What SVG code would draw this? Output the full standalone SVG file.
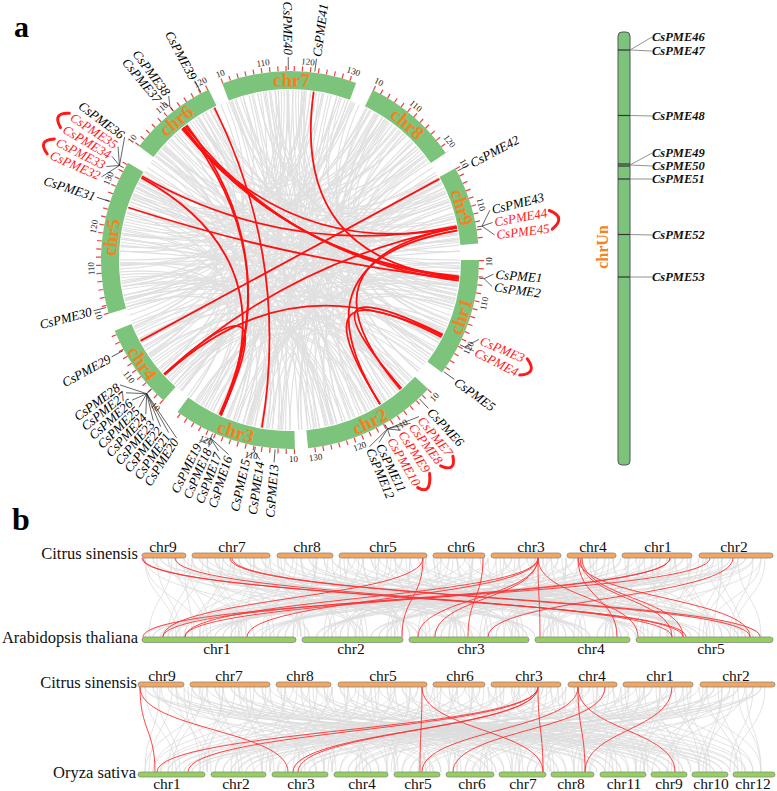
<svg xmlns="http://www.w3.org/2000/svg" xmlns:xlink="http://www.w3.org/1999/xlink" width="777" height="791" viewBox="0 0 777 791">
<style>
text{font-family:"Liberation Serif","Times New Roman",serif}
.gs{font-size:13px;font-style:italic;text-anchor:start;dominant-baseline:central;fill:#000}
.ge{font-size:13px;font-style:italic;text-anchor:end;dominant-baseline:central;fill:#000}
.r{fill:#ff1a1a}
.cl{font-size:19px;font-weight:bold;fill:#f5821f;text-anchor:middle;dominant-baseline:central}
.tk{font-size:9px;fill:#222;text-anchor:middle;dominant-baseline:central}
.band{fill:none;stroke:#7cc47c;stroke-width:18}
.tick{fill:none;stroke:#ee4040;stroke-width:5;stroke-dasharray:1.2 7}
.ld{fill:none;stroke:#222;stroke-width:0.7}
.br{fill:none;stroke:#ff1a1a;stroke-width:3;stroke-linecap:round}
.un{font-size:12.5px;font-style:italic;font-weight:bold;dominant-baseline:central;fill:#111}
.bo{fill:#f4a55e;stroke:#888;stroke-width:0.8}
.bg{fill:#94d15a;stroke:#888;stroke-width:0.8}
.bl{font-size:15.5px;text-anchor:middle;fill:#111}
.sp{font-size:16.5px;text-anchor:end;fill:#111}
</style>
<defs>
<path id="d50" d="M-71.8 -154.1Q0 0 71.8 -154.1"/>
<path id="d60" d="M-85 -147.2Q0 0 85 -147.2"/>
<path id="d70" d="M-97.5 -139.3Q0 0 97.5 -139.3"/>
<path id="d80" d="M-109.3 -130.2Q0 0 109.3 -130.2"/>
<path id="d90" d="M-120.2 -120.2Q0 0 120.2 -120.2"/>
<path id="d100" d="M-130.2 -109.3Q0 0 130.2 -109.3"/>
<path id="d110" d="M-139.3 -97.5Q0 0 139.3 -97.5"/>
<path id="d120" d="M-147.2 -85Q0 0 147.2 -85"/>
<path id="d130" d="M-154.1 -71.8Q0 0 154.1 -71.8"/>
<path id="d140" d="M-159.7 -58.1Q0 0 159.7 -58.1"/>
<path id="d150" d="M-164.2 -44Q0 0 164.2 -44"/>
<path id="d160" d="M-167.4 -29.5Q0 0 167.4 -29.5"/>
<path id="d170" d="M-169.4 -14.8Q0 0 169.4 -14.8"/>
<path id="d180" d="M-170 0L170 0"/>
</defs>
<rect width="777" height="791" fill="#fff"/>
<text x="14" y="37" font-size="30" font-weight="bold">a</text>
<text x="12" y="530" font-size="32" font-weight="bold">b</text>

<g id="links">
<g id="circos-gray-links" transform="translate(290,260)" fill="none" stroke="#e0e0e0" stroke-width="1.1">
<g id="gb1">
<use href="#d150" transform="rotate(166)"/><use href="#d100" transform="rotate(144)"/><use href="#d160" transform="rotate(17)"/><use href="#d130" transform="rotate(165)"/><use href="#d170" transform="rotate(188)"/><use href="#d60" transform="rotate(136)"/><use href="#d130" transform="rotate(44)"/><use href="#d110" transform="rotate(167)"/><use href="#d170" transform="rotate(30)"/><use href="#d80" transform="rotate(158)"/><use href="#d140" transform="rotate(191)"/><use href="#d100" transform="rotate(74)"/><use href="#d120" transform="rotate(194)"/><use href="#d160" transform="rotate(217)"/><use href="#d50" transform="rotate(165)"/><use href="#d150" transform="rotate(68)"/><use href="#d90" transform="rotate(191)"/><use href="#d180" transform="rotate(239)"/><use href="#d70" transform="rotate(187)"/><use href="#d120" transform="rotate(95)"/><use href="#d150" transform="rotate(233)"/><use href="#d100" transform="rotate(211)"/><use href="#d160" transform="rotate(84)"/><use href="#d130" transform="rotate(232)"/><use href="#d170" transform="rotate(255)"/><use href="#d60" transform="rotate(203)"/><use href="#d130" transform="rotate(115)"/><use href="#d110" transform="rotate(238)"/><use href="#d170" transform="rotate(101)"/><use href="#d80" transform="rotate(229)"/><use href="#d140" transform="rotate(262)"/><use href="#d100" transform="rotate(145)"/><use href="#d120" transform="rotate(258)"/><use href="#d160" transform="rotate(281)"/><use href="#d50" transform="rotate(229)"/><use href="#d150" transform="rotate(132)"/><use href="#d90" transform="rotate(255)"/><use href="#d180" transform="rotate(303)"/><use href="#d70" transform="rotate(251)"/><use href="#d120" transform="rotate(163)"/><use href="#d150" transform="rotate(301)"/><use href="#d100" transform="rotate(279)"/><use href="#d160" transform="rotate(152)"/><use href="#d130" transform="rotate(300)"/><use href="#d170" transform="rotate(323)"/><use href="#d60" transform="rotate(271)"/><use href="#d130" transform="rotate(179)"/><use href="#d110" transform="rotate(302)"/><use href="#d170" transform="rotate(170)"/><use href="#d80" transform="rotate(298)"/><use href="#d140" transform="rotate(331)"/><use href="#d100" transform="rotate(214)"/><use href="#d120" transform="rotate(327)"/><use href="#d160" transform="rotate(350)"/><use href="#d50" transform="rotate(298)"/><use href="#d150" transform="rotate(201)"/><use href="#d90" transform="rotate(324)"/><use href="#d180" transform="rotate(12)"/><use href="#d70" transform="rotate(320)"/><use href="#d120" transform="rotate(228)"/><use href="#d150" transform="rotate(6)"/><use href="#d100" transform="rotate(344)"/><use href="#d160" transform="rotate(217)"/><use href="#d130" transform="rotate(5)"/><use href="#d170" transform="rotate(33)"/><use href="#d60" transform="rotate(341)"/><use href="#d130" transform="rotate(249)"/><use href="#d110" transform="rotate(12)"/><use href="#d170" transform="rotate(235)"/><use href="#d80" transform="rotate(3)"/><use href="#d140" transform="rotate(36)"/><use href="#d100" transform="rotate(279)"/><use href="#d120" transform="rotate(32)"/><use href="#d160" transform="rotate(60)"/><use href="#d50" transform="rotate(8)"/><use href="#d150" transform="rotate(271)"/><use href="#d90" transform="rotate(34)"/><use href="#d180" transform="rotate(82)"/><use href="#d70" transform="rotate(30)"/><use href="#d120" transform="rotate(298)"/><use href="#d150" transform="rotate(76)"/><use href="#d100" transform="rotate(54)"/><use href="#d160" transform="rotate(287)"/><use href="#d130" transform="rotate(75)"/><use href="#d170" transform="rotate(98)"/><use href="#d60" transform="rotate(46)"/><use href="#d130" transform="rotate(314)"/><use href="#d110" transform="rotate(82)"/><use href="#d170" transform="rotate(305)"/><use href="#d80" transform="rotate(73)"/><use href="#d140" transform="rotate(106)"/><use href="#d100" transform="rotate(349)"/><use href="#d120" transform="rotate(102)"/><use href="#d160" transform="rotate(125)"/><use href="#d50" transform="rotate(73)"/><use href="#d150" transform="rotate(336)"/><use href="#d90" transform="rotate(99)"/><use href="#d180" transform="rotate(152)"/><use href="#d70" transform="rotate(100)"/><use href="#d120" transform="rotate(8)"/><use href="#d150" transform="rotate(146)"/><use href="#d100" transform="rotate(124)"/><use href="#d160" transform="rotate(357)"/><use href="#d130" transform="rotate(145)"/><use href="#d170" transform="rotate(168)"/>
</g>
<use href="#d120" transform="rotate(152.5)"/><use href="#d170" transform="rotate(183.5)"/><use href="#d90" transform="rotate(149.5)"/><use href="#d140" transform="rotate(40.5)"/><use href="#d140" transform="rotate(186.5)"/><use href="#d170" transform="rotate(37.5)"/><use href="#d100" transform="rotate(185.5)"/><use href="#d110" transform="rotate(86.5)"/><use href="#d160" transform="rotate(227.5)"/><use href="#d60" transform="rotate(183.5)"/><use href="#d160" transform="rotate(79.5)"/><use href="#d130" transform="rotate(230.5)"/><use href="#d120" transform="rotate(231.5)"/><use href="#d170" transform="rotate(266.5)"/><use href="#d90" transform="rotate(232.5)"/><use href="#d140" transform="rotate(123.5)"/><use href="#d140" transform="rotate(269.5)"/><use href="#d170" transform="rotate(120.5)"/><use href="#d100" transform="rotate(261.5)"/><use href="#d110" transform="rotate(169.5)"/><use href="#d160" transform="rotate(310.5)"/><use href="#d60" transform="rotate(266.5)"/><use href="#d160" transform="rotate(162.5)"/><use href="#d130" transform="rotate(321.5)"/><use href="#d120" transform="rotate(322.5)"/><use href="#d170" transform="rotate(353.5)"/><use href="#d90" transform="rotate(319.5)"/><use href="#d140" transform="rotate(210.5)"/><use href="#d140" transform="rotate(356.5)"/><use href="#d170" transform="rotate(207.5)"/><use href="#d100" transform="rotate(348.5)"/><use href="#d110" transform="rotate(254.5)"/><use href="#d160" transform="rotate(35.5)"/><use href="#d60" transform="rotate(351.5)"/><use href="#d160" transform="rotate(247.5)"/><use href="#d130" transform="rotate(38.5)"/><use href="#d120" transform="rotate(41.5)"/><use href="#d170" transform="rotate(72.5)"/><use href="#d90" transform="rotate(38.5)"/><use href="#d140" transform="rotate(289.5)"/><use href="#d140" transform="rotate(75.5)"/><use href="#d170" transform="rotate(286.5)"/><use href="#d100" transform="rotate(67.5)"/><use href="#d110" transform="rotate(333.5)"/><use href="#d160" transform="rotate(114.5)"/><use href="#d60" transform="rotate(70.5)"/><use href="#d160" transform="rotate(326.5)"/><use href="#d130" transform="rotate(117.5)"/><use href="#d120" transform="rotate(123.5)"/><use href="#d170" transform="rotate(154.5)"/><use href="#d90" transform="rotate(120.5)"/><use href="#d140" transform="rotate(11.5)"/>
<use href="#gb1" transform="scale(-1,1)"/>
</g>
<g id="circos-red-links" fill="none" stroke="#ff1010" stroke-width="1.8">
<path d="M183 127.9Q290 260 459.1 277.8"/>
<path d="M185.3 126Q290 260 458.7 280.7"/>
<path d="M181.9 128.8Q290 260 459.2 276.3"/>
<path d="M214.4 107.7Q290 260 261.9 427.7"/>
<path d="M184.2 127Q290 260 220.9 415.3"/>
<path d="M186.5 125.1Q290 260 219.5 414.7"/>
<path d="M141.3 177.6Q290 260 220.9 415.3"/>
<path d="M128.3 207.5Q290 260 458.9 279.2"/>
<path d="M313.7 91.6Q290 260 459.1 277.8"/>
<path d="M140.5 340.9Q290 260 439.4 178.9"/>
<path d="M164.1 374.2Q290 260 456.9 227.6"/>
<path d="M164.1 374.2Q290 260 220.9 415.3"/>
<path d="M442.3 335.6Q290 260 164.7 374.9"/>
<path d="M401.5 388.3Q290 260 442.8 334.5"/>
<path d="M456.9 227.6Q290 260 400.4 389.3"/>
<path d="M456.9 227.6Q290 260 183 127.9"/>
<path d="M456.6 226.1Q290 260 142 176.3"/>
<path d="M380.1 404.2Q290 260 441.5 337.2"/>
<path d="M380.1 404.2Q290 260 457.4 230.5"/>
</g>
<g id="synteny-gray-1" fill="none" stroke="#dcdcdc" stroke-width="0.8">
<path id="s1a" d="M145 558C145 598 200 598 200 637M153 558C153 598 426 598 426 637M161 558C161 598 652 598 652 637M168 558C168 598 254 598 254 637M176 558C176 598 480 598 480 637M184 558C184 598 707 598 707 637M192 558C192 598 309 598 309 637M200 558C200 598 535 598 535 637M207 558C207 598 761 598 761 637M215 558C215 598 363 598 363 637M223 558C223 598 590 598 590 637M231 558C231 598 192 598 192 637M239 558C239 598 418 598 418 637M246 558C246 598 644 598 644 637M254 558C254 598 246 598 246 637M262 558C262 598 473 598 473 637M270 558C270 598 699 598 699 637M278 558C278 598 301 598 301 637M285 558C285 598 527 598 527 637M293 558C293 598 753 598 753 637M301 558C301 598 356 598 356 637M309 558C309 598 582 598 582 637M317 558C317 598 184 598 184 637M324 558C324 598 410 598 410 637M332 558C332 598 636 598 636 637M340 558C340 598 239 598 239 637M348 558C348 598 465 598 465 637M356 558C356 598 691 598 691 637M363 558C363 598 293 598 293 637M371 558C371 598 519 598 519 637M379 558C379 598 746 598 746 637M387 558C387 598 348 598 348 637M395 558C395 598 574 598 574 637M402 558C402 598 176 598 176 637M410 558C410 598 402 598 402 637M418 558C418 598 629 598 629 637M426 558C426 598 231 598 231 637M434 558C434 598 457 598 457 637M441 558C441 598 683 598 683 637M449 558C449 598 285 598 285 637M457 558C457 598 512 598 512 637M465 558C465 598 738 598 738 637M473 558C473 598 340 598 340 637M480 558C480 598 566 598 566 637M488 558C488 598 168 598 168 637M496 558C496 598 395 598 395 637M504 558C504 598 621 598 621 637M512 558C512 598 223 598 223 637M519 558C519 598 449 598 449 637M527 558C527 598 675 598 675 637M535 558C535 598 278 598 278 637M543 558C543 598 504 598 504 637M551 558C551 598 730 598 730 637M558 558C558 598 332 598 332 637M566 558C566 598 558 598 558 637M574 558C574 598 161 598 161 637M582 558C582 598 387 598 387 637M590 558C590 598 613 598 613 637M597 558C597 598 215 598 215 637M605 558C605 598 441 598 441 637M613 558C613 598 668 598 668 637M621 558C621 598 270 598 270 637M629 558C629 598 496 598 496 637M636 558C636 598 722 598 722 637M644 558C644 598 324 598 324 637M652 558C652 598 551 598 551 637M660 558C660 598 153 598 153 637M668 558C668 598 379 598 379 637M675 558C675 598 605 598 605 637M683 558C683 598 207 598 207 637M691 558C691 598 434 598 434 637M699 558C699 598 660 598 660 637M707 558C707 598 262 598 262 637M714 558C714 598 488 598 488 637M722 558C722 598 714 598 714 637M730 558C730 598 317 598 317 637M738 558C738 598 543 598 543 637M746 558C746 598 145 598 145 637M753 558C753 598 371 598 371 637M761 558C761 598 597 598 597 637"/>
<path id="s1b" d="M145 558C145 598 176 598 176 637M176 558C176 598 207 598 207 637M207 558C207 598 239 598 239 637M239 558C239 598 270 598 270 637M270 558C270 598 301 598 301 637M301 558C301 598 332 598 332 637M332 558C332 598 363 598 363 637M363 558C363 598 395 598 395 637M395 558C395 598 426 598 426 637M426 558C426 598 457 598 457 637M457 558C457 598 488 598 488 637M488 558C488 598 519 598 519 637M519 558C519 598 551 598 551 637M551 558C551 598 582 598 582 637M582 558C582 598 613 598 613 637M613 558C613 598 644 598 644 637M644 558C644 598 675 598 675 637M675 558C675 598 707 598 707 637M707 558C707 598 738 598 738 637M738 558C738 598 761 598 761 637M192 558C192 598 168 598 168 637M223 558C223 598 200 598 200 637M254 558C254 598 231 598 231 637M285 558C285 598 262 598 262 637M317 558C317 598 293 598 293 637M348 558C348 598 324 598 324 637M379 558C379 598 356 598 356 637M410 558C410 598 387 598 387 637M441 558C441 598 418 598 418 637M473 558C473 598 449 598 449 637M504 558C504 598 480 598 480 637M535 558C535 598 512 598 512 637M566 558C566 598 543 598 543 637M597 558C597 598 574 598 574 637M629 558C629 598 605 598 605 637M660 558C660 598 636 598 636 637M691 558C691 598 668 598 668 637M722 558C722 598 699 598 699 637M753 558C753 598 730 598 730 637"/>
<use href="#s1a" transform="translate(906,0) scale(-1,1)"/>
<use href="#s1b" transform="translate(910,0) scale(-1,1)"/>
</g>
<g id="synteny-gray-2" fill="none" stroke="#dcdcdc" stroke-width="0.8">
<path id="s2a" d="M145 687C145 730 707 730 707 772M153 687C153 730 480 730 480 772M161 687C161 730 254 730 254 772M168 687C168 730 652 730 652 772M176 687C176 730 426 730 426 772M184 687C184 730 200 730 200 772M192 687C192 730 597 730 597 772M200 687C200 730 371 730 371 772M207 687C207 730 145 730 145 772M215 687C215 730 543 730 543 772M223 687C223 730 317 730 317 772M231 687C231 730 714 730 714 772M239 687C239 730 488 730 488 772M246 687C246 730 262 730 262 772M254 687C254 730 660 730 660 772M262 687C262 730 434 730 434 772M270 687C270 730 207 730 207 772M278 687C278 730 605 730 605 772M285 687C285 730 379 730 379 772M293 687C293 730 153 730 153 772M301 687C301 730 551 730 551 772M309 687C309 730 324 730 324 772M317 687C317 730 722 730 722 772M324 687C324 730 496 730 496 772M332 687C332 730 270 730 270 772M340 687C340 730 668 730 668 772M348 687C348 730 441 730 441 772M356 687C356 730 215 730 215 772M363 687C363 730 613 730 613 772M371 687C371 730 387 730 387 772M379 687C379 730 161 730 161 772M387 687C387 730 558 730 558 772M395 687C395 730 332 730 332 772M402 687C402 730 730 730 730 772M410 687C410 730 504 730 504 772M418 687C418 730 278 730 278 772M426 687C426 730 675 730 675 772M434 687C434 730 449 730 449 772M441 687C441 730 223 730 223 772M449 687C449 730 621 730 621 772M457 687C457 730 395 730 395 772M465 687C465 730 168 730 168 772M473 687C473 730 566 730 566 772M480 687C480 730 340 730 340 772M488 687C488 730 738 730 738 772M496 687C496 730 512 730 512 772M504 687C504 730 285 730 285 772M512 687C512 730 683 730 683 772M519 687C519 730 457 730 457 772M527 687C527 730 231 730 231 772M535 687C535 730 629 730 629 772M543 687C543 730 402 730 402 772M551 687C551 730 176 730 176 772M558 687C558 730 574 730 574 772M566 687C566 730 348 730 348 772M574 687C574 730 746 730 746 772M582 687C582 730 519 730 519 772M590 687C590 730 293 730 293 772M597 687C597 730 691 730 691 772M605 687C605 730 465 730 465 772M613 687C613 730 239 730 239 772M621 687C621 730 636 730 636 772M629 687C629 730 410 730 410 772M636 687C636 730 184 730 184 772M644 687C644 730 582 730 582 772M652 687C652 730 356 730 356 772M660 687C660 730 753 730 753 772M668 687C668 730 527 730 527 772M675 687C675 730 301 730 301 772M683 687C683 730 699 730 699 772M691 687C691 730 473 730 473 772M699 687C699 730 246 730 246 772M707 687C707 730 644 730 644 772M714 687C714 730 418 730 418 772M722 687C722 730 192 730 192 772M730 687C730 730 590 730 590 772M738 687C738 730 363 730 363 772M746 687C746 730 761 730 761 772M753 687C753 730 535 730 535 772M761 687C761 730 309 730 309 772"/>
<path id="s2b" d="M145 687C145 730 176 730 176 772M176 687C176 730 207 730 207 772M207 687C207 730 239 730 239 772M239 687C239 730 270 730 270 772M270 687C270 730 301 730 301 772M301 687C301 730 332 730 332 772M332 687C332 730 363 730 363 772M363 687C363 730 395 730 395 772M395 687C395 730 426 730 426 772M426 687C426 730 457 730 457 772M457 687C457 730 488 730 488 772M488 687C488 730 519 730 519 772M519 687C519 730 551 730 551 772M551 687C551 730 582 730 582 772M582 687C582 730 613 730 613 772M613 687C613 730 644 730 644 772M644 687C644 730 675 730 675 772M675 687C675 730 707 730 707 772M707 687C707 730 738 730 738 772M738 687C738 730 761 730 761 772M192 687C192 730 168 730 168 772M223 687C223 730 200 730 200 772M254 687C254 730 231 730 231 772M285 687C285 730 262 730 262 772M317 687C317 730 293 730 293 772M348 687C348 730 324 730 324 772M379 687C379 730 356 730 356 772M410 687C410 730 387 730 387 772M441 687C441 730 418 730 418 772M473 687C473 730 449 730 449 772M504 687C504 730 480 730 480 772M535 687C535 730 512 730 512 772M566 687C566 730 543 730 543 772M597 687C597 730 574 730 574 772M629 687C629 730 605 730 605 772M660 687C660 730 636 730 636 772M691 687C691 730 668 730 668 772M722 687C722 730 699 730 699 772M753 687C753 730 730 730 730 772"/>
<use href="#s2a" transform="translate(906,0) scale(-1,1)"/>
<use href="#s2b" transform="translate(910,0) scale(-1,1)"/>
</g>
<g id="synteny-red" fill="none" stroke="#ff3030" stroke-width="0.9">
<path d="M142 558C142 598 683 598 683 637M143 558C143 598 686 598 686 637M175 558C175 598 672 598 672 637M230 558C230 598 750 598 750 637M232 558C232 598 760 598 760 637M423 558C423 598 163 598 163 637M423 558C423 598 402 598 402 637M483 558C483 598 468 598 468 637M538 558C538 598 185 598 185 637M538 558C538 598 247 598 247 637M538 558C538 598 418 598 418 637M538 558C538 598 435 598 435 637M538 558C538 598 540 598 540 637M538 558C538 598 638 598 638 637M578 558C578 598 617 598 617 637M582 558C582 598 683 598 683 637M580 558C580 598 672 598 672 637M670 558C670 598 163 598 163 637M670 558C670 598 185 598 185 637M710 558C710 598 143 598 143 637M733 558C733 598 488 598 488 637M578 558C578 598 750 598 750 637"/>
<path d="M140 687C140 730 155 730 155 772M140 687C140 730 288 730 288 772M422 687C422 730 420 730 420 772M422 687C422 730 543 730 543 772M538 687C538 730 157 730 157 772M538 687C538 730 188 730 188 772M538 687C538 730 293 730 293 772M538 687C538 730 298 730 298 772M538 687C538 730 543 730 543 772M578 687C578 730 422 730 422 772M578 687C578 730 585 730 585 772M578 687C578 730 675 730 675 772M605 687C605 730 453 730 453 772M672 687C672 730 585 730 585 772"/>
</g>
</g>

<g id="circos" transform="translate(290,260)">
<g id="chr1"><path class="band" d="M180 0A180 180 0 0 1 144.7 107.1"/><path class="tick" d="M191.5 0A191.5 191.5 0 0 1 153.9 113.9"/><text class="cl" transform="rotate(108.25) translate(0,-180) rotate(180)">chr1</text></g>
<g id="chr2"><path class="band" d="M131.6 122.8A180 180 0 0 1 17.2 179.2"/><path class="tick" d="M140.1 130.6A191.5 191.5 0 0 1 18.3 190.6"/><text class="cl" transform="rotate(153.75) translate(0,-180) rotate(180)">chr2</text></g>
<g id="chr3"><path class="band" d="M4.7 179.9A180 180 0 0 1 -107.1 144.7"/><path class="tick" d="M5 191.4A191.5 191.5 0 0 1 -113.9 153.9"/><text class="cl" transform="rotate(197.5) translate(0,-180) rotate(180)">chr3</text></g>
<g id="chr4"><path class="band" d="M-120.4 133.8A180 180 0 0 1 -166.9 67.4"/><path class="tick" d="M-128.1 142.3A191.5 191.5 0 0 1 -177.6 71.7"/><text class="cl" transform="rotate(235) translate(0,-180) rotate(180)">chr4</text></g>
<g id="chr5"><path class="band" d="M-172.6 51.1A180 180 0 0 1 -154.3 -92.7"/><path class="tick" d="M-183.6 54.4A191.5 191.5 0 0 1 -164.2 -98.6"/><text class="cl" transform="rotate(277.25) translate(0,-180)">chr5</text></g>
<g id="chr6"><path class="band" d="M-143.7 -108.3A180 180 0 0 1 -77.5 -162.5"/><path class="tick" d="M-152.9 -115.2A191.5 191.5 0 0 1 -82.4 -172.8"/><text class="cl" transform="rotate(320.75) translate(0,-180)">chr6</text></g>
<g id="chr7"><path class="band" d="M-64.5 -168A180 180 0 0 1 63 -168.6"/><path class="tick" d="M-68.6 -178.8A191.5 191.5 0 0 1 67.1 -179.4"/><text class="cl" transform="rotate(0.5) translate(0,-180)">chr7</text></g>
<g id="chr8"><path class="band" d="M78.9 -161.8A180 180 0 0 1 148.3 -102"/><path class="tick" d="M83.9 -172.1A191.5 191.5 0 0 1 157.8 -108.5"/><text class="cl" transform="rotate(40.75) translate(0,-180)">chr8</text></g>
<g id="chr9"><path class="band" d="M157.4 -87.3A180 180 0 0 1 179.3 -15.7"/><path class="tick" d="M167.5 -92.8A191.5 191.5 0 0 1 190.8 -16.7"/><text class="cl" transform="rotate(73) translate(0,-180)">chr9</text></g>

<g id="tick-labels">
<text class="tk" transform="rotate(339.5) translate(0,-199)">10</text>
<text class="tk" transform="rotate(352.2) translate(0,-199)">110</text>
<text class="tk" transform="rotate(5.2) translate(0,-199)">120</text>
<text class="tk" transform="rotate(18.6) translate(0,-199)">130</text>
<text class="tk" transform="rotate(26.5) translate(0,-199)">10</text>
<text class="tk" transform="rotate(39.2) translate(0,-199)">110</text>
<text class="tk" transform="rotate(53.3) translate(0,-199)">120</text>
<text class="tk" transform="rotate(61) translate(0,-199)">10</text>
<text class="tk" transform="rotate(73.8) translate(0,-199)">110</text>
<text class="tk" transform="rotate(90.5) translate(0,-199) rotate(180)">10</text>
<text class="tk" transform="rotate(102.6) translate(0,-199) rotate(180)">110</text>
<text class="tk" transform="rotate(116.2) translate(0,-199) rotate(180)">120</text>
<text class="tk" transform="rotate(133.5) translate(0,-199) rotate(180)">10</text>
<text class="tk" transform="rotate(146) translate(0,-199) rotate(180)">110</text>
<text class="tk" transform="rotate(159.5) translate(0,-199) rotate(180)">120</text>
<text class="tk" transform="rotate(172.6) translate(0,-199) rotate(180)">130</text>
<text class="tk" transform="rotate(179) translate(0,-199) rotate(180)">10</text>
<text class="tk" transform="rotate(191.2) translate(0,-199) rotate(180)">110</text>
<text class="tk" transform="rotate(205) translate(0,-199) rotate(180)">120</text>
<text class="tk" transform="rotate(222.5) translate(0,-199) rotate(180)">10</text>
<text class="tk" transform="rotate(234) translate(0,-199) rotate(180)">110</text>
<text class="tk" transform="rotate(254) translate(0,-199) rotate(180)">10</text>
<text class="tk" transform="rotate(267.5) translate(0,-199)">110</text>
<text class="tk" transform="rotate(279.7) translate(0,-199)">120</text>
<text class="tk" transform="rotate(294.2) translate(0,-199)">130</text>
<text class="tk" transform="rotate(307.5) translate(0,-199)">10</text>
<text class="tk" transform="rotate(319.9) translate(0,-199)">110</text>
<text class="tk" transform="rotate(333.2) translate(0,-199)">120</text>
</g>

<g id="leaders" class="ld">
<line transform="rotate(7.5)" y1="-190" y2="-203"/>
<line transform="rotate(62)" y1="-190" y2="-203"/>
<line transform="rotate(126)" y1="-190" y2="-203"/>
<line transform="rotate(137)" y1="-190" y2="-203"/>
<line transform="rotate(184.5)" y1="-190" y2="-203"/>
<line transform="rotate(241.5)" y1="-190" y2="-203"/>
<line transform="rotate(255.5)" y1="-190" y2="-203"/>
<line transform="rotate(288)" y1="-190" y2="-203"/>
<line transform="rotate(332)" y1="-190" y2="-203"/>
<line transform="rotate(359.5)" y1="-190" y2="-203"/>
<line transform="rotate(80)" y1="-190" y2="-195"/>
<line transform="rotate(95.5)" y1="-190" y2="-195"/>
<line transform="rotate(116.5)" y1="-190" y2="-195"/>
<line transform="rotate(150)" y1="-190" y2="-195"/>
<line transform="rotate(190.5)" y1="-190" y2="-195"/>
<line transform="rotate(204)" y1="-190" y2="-195"/>
<line transform="rotate(227)" y1="-190" y2="-196"/>
<line transform="rotate(299)" y1="-190" y2="-195"/>
<line transform="rotate(322)" y1="-190" y2="-195"/>
<path d="M192 -33.9L199.9 -49.8M192 -33.9L202.6 -37.5M192 -33.9L204.5 -25.1M194.1 18.7L203.5 14.2M194.1 18.7L202.2 26.6M174.5 87L189 79.4M174.5 87L183.8 90.8M97.5 168.9L129.1 156.6M97.5 168.9L120.7 163.2M97.5 168.9L110.6 170.3M97.5 168.9L100 176.7M97.5 168.9L89 182.5M97.5 168.9L79.3 186.9M-35.5 191.7L-29.9 199.8M-35.5 191.7L-43.7 197.2M-79.3 178.1L-61.3 194.6M-79.3 178.1L-71.4 191.1M-79.3 178.1L-81.3 187.1M-79.3 178.1L-91 182.6M-143.3 133.7L-113.4 178M-143.3 133.7L-121.3 172.6M-143.3 133.7L-129.3 166.7M-143.3 133.7L-136.7 160.7M-143.3 133.7L-144.2 154.1M-143.3 133.7L-151 147.4M-143.3 133.7L-157.8 140.1M-143.3 133.7L-164 132.8M-143.3 133.7L-170 124.9M-170.5 -94.5L-188.5 -83.1M-170.5 -94.5L-183.5 -93.5M-170.5 -94.5L-178 -103.6M-170.5 -94.5L-172 -113.4M-170.5 -94.5L-165.4 -122.8M-120.1 -153.7L-129.8 -157.4M-120.1 -153.7L-121.3 -164"/>
</g>

<g id="brackets" class="br">
<path d="M259.3 -49.5Q276.7 -42.8 262.2 -30.8"/>
<path d="M237.3 98.8Q248.2 113.6 229.8 115.1"/>
<path d="M162.9 196.2Q166.2 212.8 150.6 205.8"/>
<path d="M139.6 213.4Q141.6 235.7 127.7 227.6"/>
<path d="M-220.7 -146.7Q-238 -147.6 -229.5 -132.5"/>
<path d="M-235.7 -121.1Q-252.9 -120.1 -242.8 -106.1"/>
</g>

<g id="gene-labels">
<text class="gs" transform="rotate(7.5) translate(0,-205) rotate(-90)">CsPME41</text>
<text class="gs" transform="rotate(62) translate(0,-205) rotate(-90)">CsPME42</text>
<text class="gs" transform="rotate(76) translate(0,-208) rotate(-90)">CsPME43</text>
<text class="gs r" transform="rotate(79.5) translate(0,-208) rotate(-90)">CsPME44</text>
<text class="gs r" transform="rotate(83) translate(0,-208) rotate(-90)">CsPME45</text>
<text class="gs" transform="rotate(94) translate(0,-206) rotate(-90)">CsPME1</text>
<text class="gs" transform="rotate(97.5) translate(0,-206) rotate(-90)">CsPME2</text>
<text class="gs r" transform="rotate(112.8) translate(0,-207) rotate(-90)">CsPME3</text>
<text class="gs r" transform="rotate(116.3) translate(0,-207) rotate(-90)">CsPME4</text>
<text class="gs" transform="rotate(126) translate(0,-205) rotate(-90)">CsPME5</text>
<text class="gs" transform="rotate(137) translate(0,-205) rotate(-90)">CsPME6</text>
<text class="gs r" transform="rotate(140.5) translate(0,-205) rotate(-90)">CsPME7</text>
<text class="gs r" transform="rotate(143.5) translate(0,-205) rotate(-90)">CsPME8</text>
<text class="gs r" transform="rotate(147) translate(0,-205) rotate(-90)">CsPME9</text>
<text class="gs r" transform="rotate(150.5) translate(0,-205) rotate(-90)">CsPME10</text>
<text class="gs" transform="rotate(154) translate(0,-205) rotate(-90)">CsPME11</text>
<text class="gs" transform="rotate(157) translate(0,-205) rotate(-90)">CsPME12</text>
<text class="ge" transform="rotate(184.5) translate(0,-205) rotate(90)">CsPME13</text>
<text class="ge" transform="rotate(188.5) translate(0,-204) rotate(90)">CsPME14</text>
<text class="ge" transform="rotate(192.5) translate(0,-204) rotate(90)">CsPME15</text>
<text class="ge" transform="rotate(197.5) translate(0,-206) rotate(90)">CsPME16</text>
<text class="ge" transform="rotate(200.5) translate(0,-206) rotate(90)">CsPME17</text>
<text class="ge" transform="rotate(203.5) translate(0,-206) rotate(90)">CsPME18</text>
<text class="ge" transform="rotate(206.5) translate(0,-206) rotate(90)">CsPME19</text>
<text class="ge" transform="rotate(212.5) translate(0,-213) rotate(90)">CsPME20</text>
<text class="ge" transform="rotate(215.1) translate(0,-213) rotate(90)">CsPME21</text>
<text class="ge" transform="rotate(217.8) translate(0,-213) rotate(90)">CsPME22</text>
<text class="ge" transform="rotate(220.4) translate(0,-213) rotate(90)">CsPME23</text>
<text class="ge" transform="rotate(223.1) translate(0,-213) rotate(90)">CsPME24</text>
<text class="ge" transform="rotate(225.7) translate(0,-213) rotate(90)">CsPME25</text>
<text class="ge" transform="rotate(228.4) translate(0,-213) rotate(90)">CsPME26</text>
<text class="ge" transform="rotate(231) translate(0,-213) rotate(90)">CsPME27</text>
<text class="ge" transform="rotate(233.7) translate(0,-213) rotate(90)">CsPME28</text>
<text class="ge" transform="rotate(241.5) translate(0,-205) rotate(90)">CsPME29</text>
<text class="ge" transform="rotate(255.5) translate(0,-205) rotate(90)">CsPME30</text>
<text class="ge" transform="rotate(288) translate(0,-205) rotate(90)">CsPME31</text>
<text class="ge r" transform="rotate(293.8) translate(0,-208) rotate(90)">CsPME32</text>
<text class="ge r" transform="rotate(297) translate(0,-208) rotate(90)">CsPME33</text>
<text class="ge r" transform="rotate(300.2) translate(0,-208) rotate(90)">CsPME34</text>
<text class="ge r" transform="rotate(303.4) translate(0,-208) rotate(90)">CsPME35</text>
<text class="ge" transform="rotate(306.6) translate(0,-208) rotate(90)">CsPME36</text>
<text class="ge" transform="rotate(320.5) translate(0,-206) rotate(90)">CsPME37</text>
<text class="ge" transform="rotate(323.5) translate(0,-206) rotate(90)">CsPME38</text>
<text class="ge" transform="rotate(332) translate(0,-205) rotate(90)">CsPME39</text>
<text class="ge" transform="rotate(359.5) translate(0,-205) rotate(90)">CsPME40</text>
</g>
</g>

<g id="chrUn">
<rect x="618" y="32" width="12" height="433" rx="4" fill="#7cc47c" stroke="#555" stroke-width="1"/>
<g stroke="#333" stroke-width="1.2">
<line x1="618" y1="50" x2="630" y2="50"/>
<line x1="618" y1="115.5" x2="630" y2="115.5"/>
<line x1="618" y1="164" x2="630" y2="164"/>
<line x1="618" y1="166" x2="630" y2="166"/>
<line x1="618" y1="179" x2="630" y2="179"/>
<line x1="618" y1="234.5" x2="630" y2="234.5"/>
<line x1="618" y1="277" x2="630" y2="277"/>
</g>
<path d="M630 50L652 37M630 50L652 51M630 115.5L652 116M630 165L652 153M630 165L652 166M630 179L652 179M630 234.5L652 235M630 277L652 277" fill="none" stroke="#777" stroke-width="0.8"/>
<text class="un" x="652" y="37">CsPME46</text>
<text class="un" x="652" y="51">CsPME47</text>
<text class="un" x="652" y="116">CsPME48</text>
<text class="un" x="652" y="153">CsPME49</text>
<text class="un" x="652" y="166">CsPME50</text>
<text class="un" x="652" y="179">CsPME51</text>
<text class="un" x="652" y="235">CsPME52</text>
<text class="un" x="652" y="277">CsPME53</text>
<text transform="translate(602,247) rotate(-90)" font-size="16" font-weight="bold" fill="#f5821f" text-anchor="middle" dominant-baseline="central">chrUn</text>
</g>

<g id="panel-b">
<g id="row1-citrus">
<text class="sp" x="138" y="559">Citrus sinensis</text>
<rect class="bo" x="142" y="553" width="44" height="5" rx="2.5"/>
<rect class="bo" x="192" y="553" width="78" height="5" rx="2.5"/>
<rect class="bo" x="277" y="553" width="56" height="5" rx="2.5"/>
<rect class="bo" x="339" y="553" width="88" height="5" rx="2.5"/>
<rect class="bo" x="433" y="553" width="52" height="5" rx="2.5"/>
<rect class="bo" x="491" y="553" width="70" height="5" rx="2.5"/>
<rect class="bo" x="567" y="553" width="49" height="5" rx="2.5"/>
<rect class="bo" x="622" y="553" width="70" height="5" rx="2.5"/>
<rect class="bo" x="699" y="553" width="74" height="5" rx="2.5"/>
<text class="bl" x="163" y="552">chr9</text>
<text class="bl" x="232" y="552">chr7</text>
<text class="bl" x="307" y="552">chr8</text>
<text class="bl" x="383" y="552">chr5</text>
<text class="bl" x="461" y="552">chr6</text>
<text class="bl" x="531" y="552">chr3</text>
<text class="bl" x="593" y="552">chr4</text>
<text class="bl" x="658" y="552">chr1</text>
<text class="bl" x="734" y="552">chr2</text>
</g>
<g id="row1-arabidopsis">
<text class="sp" x="138" y="643">Arabidopsis thaliana</text>
<rect class="bg" x="142" y="637" width="154" height="5.5" rx="2.7"/>
<rect class="bg" x="302" y="637" width="101" height="5.5" rx="2.7"/>
<rect class="bg" x="409" y="637" width="120" height="5.5" rx="2.7"/>
<rect class="bg" x="535" y="637" width="95" height="5.5" rx="2.7"/>
<rect class="bg" x="636" y="637" width="137" height="5.5" rx="2.7"/>
<text class="bl" x="217" y="654">chr1</text>
<text class="bl" x="351" y="654">chr2</text>
<text class="bl" x="471" y="654">chr3</text>
<text class="bl" x="591" y="654">chr4</text>
<text class="bl" x="711" y="654">chr5</text>
</g>
<g id="row2-citrus">
<text class="sp" x="137" y="688">Citrus sinensis</text>
<rect class="bo" x="138" y="682" width="46" height="5" rx="2.5"/>
<rect class="bo" x="190" y="682" width="80" height="5" rx="2.5"/>
<rect class="bo" x="276" y="682" width="55" height="5" rx="2.5"/>
<rect class="bo" x="338" y="682" width="89" height="5" rx="2.5"/>
<rect class="bo" x="433" y="682" width="52" height="5" rx="2.5"/>
<rect class="bo" x="491" y="682" width="70" height="5" rx="2.5"/>
<rect class="bo" x="568" y="682" width="49" height="5" rx="2.5"/>
<rect class="bo" x="623" y="682" width="70" height="5" rx="2.5"/>
<rect class="bo" x="700" y="682" width="75" height="5" rx="2.5"/>
<text class="bl" x="162" y="681">chr9</text>
<text class="bl" x="229" y="681">chr7</text>
<text class="bl" x="300" y="681">chr8</text>
<text class="bl" x="383" y="681">chr5</text>
<text class="bl" x="460" y="681">chr6</text>
<text class="bl" x="529" y="681">chr3</text>
<text class="bl" x="592" y="681">chr4</text>
<text class="bl" x="660" y="681">chr1</text>
<text class="bl" x="736" y="681">chr2</text>
</g>
<g id="row2-oryza">
<text class="sp" x="136" y="778">Oryza sativa</text>
<rect class="bg" x="138" y="772" width="67" height="5" rx="2.5"/>
<rect class="bg" x="211" y="772" width="55" height="5" rx="2.5"/>
<rect class="bg" x="272" y="772" width="56" height="5" rx="2.5"/>
<rect class="bg" x="334" y="772" width="54" height="5" rx="2.5"/>
<rect class="bg" x="394" y="772" width="46" height="5" rx="2.5"/>
<rect class="bg" x="446" y="772" width="48" height="5" rx="2.5"/>
<rect class="bg" x="499" y="772" width="47" height="5" rx="2.5"/>
<rect class="bg" x="551" y="772" width="43" height="5" rx="2.5"/>
<rect class="bg" x="600" y="772" width="46" height="5" rx="2.5"/>
<rect class="bg" x="651" y="772" width="36" height="5" rx="2.5"/>
<rect class="bg" x="692" y="772" width="36" height="5" rx="2.5"/>
<rect class="bg" x="733" y="772" width="42" height="5" rx="2.5"/>
<text class="bl" x="167" y="789">chr1</text>
<text class="bl" x="236" y="789">chr2</text>
<text class="bl" x="301" y="789">chr3</text>
<text class="bl" x="362" y="789">chr4</text>
<text class="bl" x="418" y="789">chr5</text>
<text class="bl" x="472" y="789">chr6</text>
<text class="bl" x="523" y="789">chr7</text>
<text class="bl" x="571" y="789">chr8</text>
<text class="bl" x="624" y="789">chr11</text>
<text class="bl" x="669" y="789">chr9</text>
<text class="bl" x="711" y="789">chr10</text>
<text class="bl" x="753" y="789">chr12</text>
</g>
</g>
</svg>
